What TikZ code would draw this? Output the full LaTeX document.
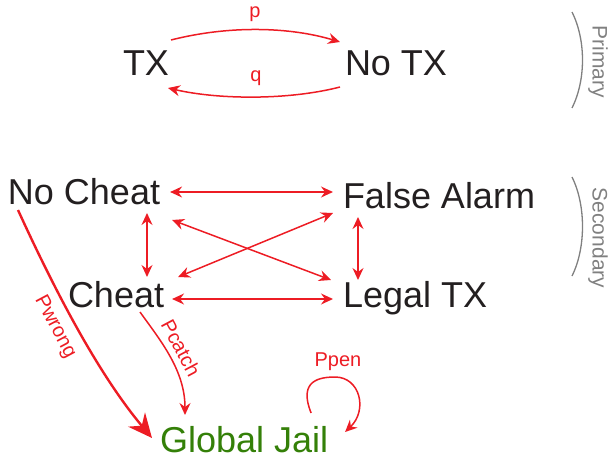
\documentclass[tikz,border=0pt]{standalone}
\usepackage{fontspec}
\setmainfont{Liberation Sans}
\usetikzlibrary{arrows.meta,calc}
\definecolor{arrowred}{RGB}{237,28,36}
\definecolor{inkblack}{RGB}{35,31,32}
\definecolor{jailgreen}{RGB}{52,128,8}
\definecolor{bracegray}{RGB}{128,128,128}
\tikzset{
  state/.style={inner sep=0pt, outer sep=0pt, anchor=base west, text=inkblack,
    font=\fontsize{36}{36}\selectfont},
  prob/.style={inner sep=0pt, text=arrowred, font=\fontsize{20}{20}\selectfont},
  tier/.style={inner sep=0pt, text=bracegray, rotate=-90, font=\fontsize{21}{21}\selectfont},
  link/.style={draw=arrowred, line width=1.5pt,
    {Stealth[length=12pt,width=11pt,inset=4pt]}-{Stealth[length=12pt,width=11pt,inset=4pt]}},
  trans/.style={draw=arrowred, line width=1.5pt,
    -{Stealth[length=12pt,width=11pt,inset=4pt]}},
  brace/.style={draw=bracegray, line width=1.3pt},
}
\begin{document}
\begin{tikzpicture}[x=1pt,y=-1pt]
\useasboundingbox (0,0) rectangle (611,458);

% primary chain
\node[state] (tx) at (123,75) {TX};
\node[state] (notx) at (345,75) {No TX};
\draw[trans] ($(tx.base east)+(2,-35)$) .. controls (230,25) and (290,27) .. ($(notx.base west)+(-5,-33)$);
\draw[trans] ($(notx.base west)+(-5,12)$) .. controls (290,100) and (220,100) .. ($(tx.base east)+(-1,13)$);
\node[prob] (lp) at (255,14) {p};
\node[prob] (lq) at (256,78) {q};

% secondary chain
\node[state] (nocheat) at (8,204) {No Cheat};
\node[state] (cheat) at (68,307) {Cheat};
\node[state] (falsealarm) at (343,208) {False Alarm};
\node[state] (legaltx) at (343,307) {Legal TX};
\node[state, text=jailgreen] (jail) at (160,452) {Global Jail};

\draw[link] ($(nocheat.base east)+(10,-12)$) -- ($(falsealarm.base west)+(-10,-16)$);
\draw[link] ($(cheat.base east)+(8,-8)$) -- ($(legaltx.base west)+(-10,-8)$);
\draw[link] ($(nocheat.base west)+(139,9)$) -- ($(cheat.base west)+(79,-30)$);
\draw[link] ($(falsealarm.base west)+(15,9)$) -- ($(legaltx.base west)+(15,-27)$);
\draw[link] ($(nocheat.base east)+(12,16)$) -- ($(legaltx.base west)+(-12,-27)$);
\draw[link] ($(cheat.base east)+(14,-30)$) -- ($(falsealarm.base west)+(-10,5)$);

% transitions into jail
\draw[draw=arrowred, line width=2.4pt, -{Stealth[length=24pt,width=22pt,inset=8pt]}]
  ($(nocheat.base west)+(10,6)$) .. controls (50,280) and (95,370) .. ($(jail.base west)+(-8,-14)$);
\node[prob, rotate=-62] (lwrong) at (55,327) {Pwrong};
\draw[trans] ($(cheat.base west)+(72,5)$) .. controls (160,340) and (185,370) .. ($(jail.base west)+(25,-37)$);
\node[prob, rotate=-62] (lcatch) at (181,348) {Pcatch};
\draw[trans] ($(jail.base east)+(-17,-39)$) .. controls (300,385) and (313,377) .. (335,377)
  .. controls (360,377) and (368,410) .. ($(jail.base east)+(17,-20)$);
\node[prob] (lpen) at (338,362) {Ppen};

% tier brackets
\draw[brace] (572,12) .. controls (586,40) and (586,80) .. (572,108);
\node[tier] (primary) at (598,62) {Primary};
\draw[brace] (572,177) .. controls (586,205) and (586,248) .. (572,276);
\node[tier] (secondary) at (598,238) {Secondary};
\end{tikzpicture}
\end{document}
